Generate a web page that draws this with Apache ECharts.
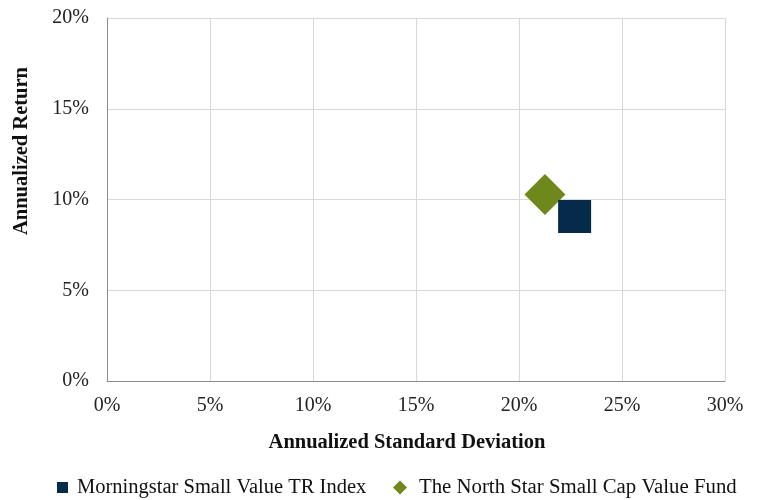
<!DOCTYPE html>
<html>
<head>
<meta charset="utf-8">
<script src="https://cdn.jsdelivr.net/npm/echarts@6/dist/echarts.min.js"></script>
<style>html,body{margin:0;padding:0;background:#fff;}#c{width:758px;height:500px;}</style>
</head>
<body>
<div id="c"></div>
<script>
const seriesNames = ['Morningstar Small Value TR Index', 'The North Star Small Cap Value Fund'];
const indexPoint = [22.7, 9.07];   // [std dev %, return %]
const fundPoint = [21.26, 10.28];
const xTicks = [0, 5, 10, 15, 20, 25, 30];
const yTicks = [0, 5, 10, 15, 20];
const xTitle = 'Annualized Standard Deviation';
const yTitle = 'Annualized Return';

const FONT = '"Liberation Serif", "DejaVu Serif", serif';
const chart = echarts.init(document.getElementById('c'), null, {renderer: 'canvas'});
chart.setOption({
  animation: false,
  backgroundColor: '#fff',
  textStyle: {fontFamily: FONT},
  grid: {left: 107, right: 33, top: 18, bottom: 119, containLabel: false},
  xAxis: {
    type: 'value', min: xTicks[0], max: xTicks[xTicks.length - 1], interval: 5,
    axisLine: {show: true, onZero: false, lineStyle: {color: '#8c8c8c', width: 1}},
    axisTick: {show: false},
    splitLine: {show: true, lineStyle: {color: '#d9d9d9', width: 1}},
    axisLabel: {formatter: v => v + '%', color: '#222', fontSize: 20, fontFamily: FONT, margin: 15},
    name: xTitle, nameLocation: 'middle', nameGap: 51,
    nameTextStyle: {fontFamily: FONT, fontWeight: 'bold', fontSize: 20.5, color: '#111', padding: [0, 18, 0, 0]}
  },
  yAxis: {
    type: 'value', min: yTicks[0], max: yTicks[yTicks.length - 1], interval: 5,
    axisLine: {show: true, onZero: false, lineStyle: {color: '#8c8c8c', width: 1}},
    axisTick: {show: false},
    splitLine: {show: true, lineStyle: {color: '#d9d9d9', width: 1}},
    axisLabel: {formatter: v => v + '%', color: '#222', fontSize: 20, fontFamily: FONT, margin: 18}
  },
  legend: [
    {
      left: 57, top: 477, padding: 0, itemWidth: 11, itemHeight: 11,
      textStyle: {fontFamily: FONT, fontSize: 20.5, color: '#111', padding: [0, 0, 0, 4]},
      data: [{name: seriesNames[0], icon: 'rect'}]
    },
    {
      left: 393, top: 477, padding: 0, itemWidth: 14, itemHeight: 14,
      textStyle: {fontFamily: FONT, fontSize: 20.8, color: '#111', padding: [0, 0, 0, 7]},
      data: [{name: seriesNames[1], icon: 'diamond'}]
    }
  ],
  graphic: [{
    type: 'text', rotation: Math.PI / 2,
    x: 22, y: 151,
    style: {text: yTitle, font: 'bold 20.5px ' + FONT, fill: '#111', textAlign: 'center', textVerticalAlign: 'middle'}
  }],
  series: [
    {
      name: seriesNames[0], type: 'scatter', symbol: 'rect', symbolSize: 33, z: 3,
      itemStyle: {color: '#062a4a', opacity: 1},
      data: [indexPoint]
    },
    {
      name: seriesNames[1], type: 'scatter', symbol: 'diamond', symbolSize: 41, z: 2,
      itemStyle: {color: '#6f881b', opacity: 1},
      data: [fundPoint]
    }
  ]
});
</script>
</body>
</html>
